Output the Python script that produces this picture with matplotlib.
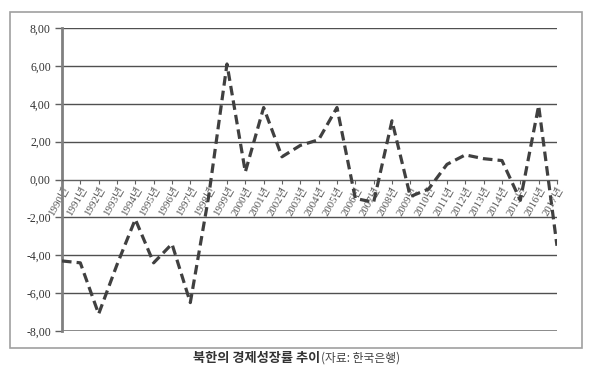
import matplotlib.pyplot as plt
from matplotlib.patches import Rectangle
from matplotlib.ticker import FuncFormatter

# 북한 경제성장률 (%), 자료: 한국은행
years = list(range(1990, 2018))
growth = [-4.3, -4.4, -7.1, -4.5, -2.1, -4.4, -3.4, -6.5, -0.9, 6.1,
          0.4, 3.8, 1.2, 1.8, 2.1, 3.8, -1.0, -1.2, 3.1, -0.9,
          -0.5, 0.8, 1.3, 1.1, 1.0, -1.1, 3.9, -3.5]
year_labels = [f"{y}년" for y in years]
y_ticks = [-8, -6, -4, -2, 0, 2, 4, 6, 8]

plt.rcParams['font.family'] = ['Liberation Serif', 'Noto Sans CJK KR', 'DejaVu Sans']

fig = plt.figure(figsize=(6, 3.77), dpi=100)
ax = fig.add_axes([0.1033, 0.122, 0.825, 0.8037])

# 바깥 테두리
fig.patches.append(Rectangle((0.0167, 0.077), 0.953, 0.891, transform=fig.transFigure,
                             fill=False, edgecolor='#a0a0a0', linewidth=1.2))

x = list(range(len(years)))
ax.plot(x, growth, color='#404040', linewidth=2.3, linestyle=(0, (3, 1.6)),
        solid_capstyle='butt', zorder=3)

ax.set_xlim(0, len(years) - 1)
ax.set_ylim(-8, 8)
ax.set_yticks(y_ticks)
ax.yaxis.set_major_formatter(FuncFormatter(lambda v, p: f"{v:.2f}".replace('.', ',')))
for v in y_ticks:
    if v in (0, -8):
        continue
    ax.axhline(v, color='#505050', linewidth=1.0, zorder=1)
ax.axhline(-8, color='#808080', linewidth=2.0, zorder=1)

for s in ['top', 'right']:
    ax.spines[s].set_visible(False)
ax.spines['left'].set_color('#808080')
ax.spines['left'].set_linewidth(2.0)
ax.spines['bottom'].set_position(('data', 0))
ax.spines['bottom'].set_color('#606060')
ax.spines['bottom'].set_linewidth(1.0)

ax.tick_params(axis='y', length=5, width=1, color='#606060', labelsize=8.5,
               labelcolor='#333333', pad=3)
ax.tick_params(axis='x', direction='out', length=3, width=0.8, color='#606060',
               labelsize=7.8, labelcolor='#555555', pad=1)
ax.set_xticks(x)
ax.set_xticklabels(year_labels, rotation=60, ha='right', va='top',
                   rotation_mode='anchor')

fig.text(0.533, 0.050, "북한의 경제성장률 추이", ha='right', va='center',
         fontsize=9.5, fontweight='bold', color='#333333', family=['Noto Sans CJK KR'])
fig.text(0.535, 0.050, "(자료: 한국은행)", ha='left', va='center',
         fontsize=8.5, color='#444444', family=['Noto Sans CJK KR'])

fig.savefig('out.png', dpi=100)
